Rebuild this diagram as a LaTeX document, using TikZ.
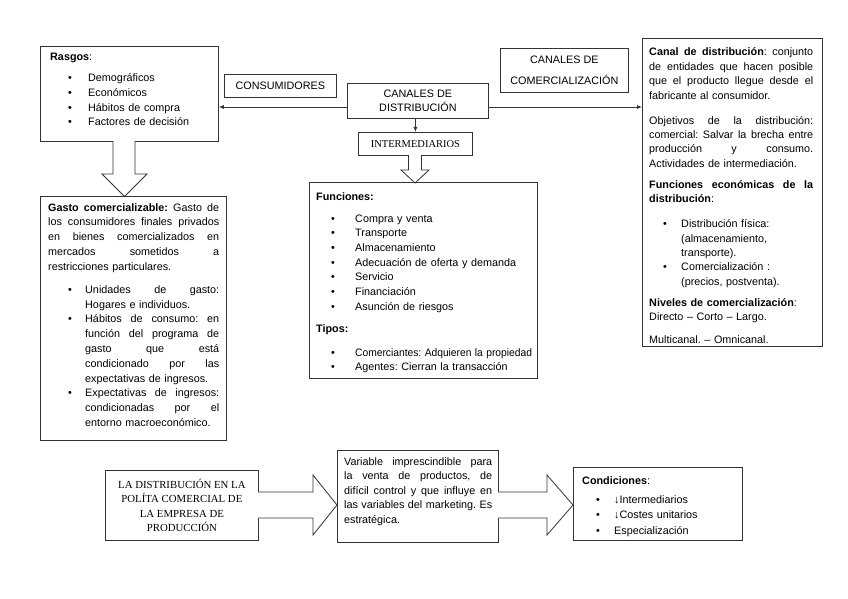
\documentclass[tikz,border=0pt]{standalone}
\usepackage{fontspec}
\setmainfont{Liberation Sans}
\newfontfamily\serifrm{Liberation Serif}
\usetikzlibrary{arrows.meta}
\newlength\bulind
\newlength\bulwd
\newlength\jw
\protected\def\Fixsp{\spaceskip=\fontdimen2\font\relax}
\protected\def\Sstretch{\spaceskip=\fontdimen2\font plus 1fil\relax}
\newcommand{\Bitem}{\hspace*{\bulind}\makebox[\bulwd][l]{\textbullet}}
\newcommand{\Bcont}{\hspace*{\dimexpr\bulind+\bulwd\relax}}
\newcommand{\Jline}[1]{\makebox[\jw][s]{\Sstretch#1}}
\newcommand{\Bjust}[1]{\Bitem\makebox[\dimexpr\jw-\bulind-\bulwd\relax][s]{\Sstretch#1}}
\newcommand{\Cjust}[1]{\Bcont\makebox[\dimexpr\jw-\bulind-\bulwd\relax][s]{\Sstretch#1}}
\begin{document}
\frenchspacing
\begin{tikzpicture}[x=1pt,y=-1pt,
  box/.style={draw=black!80, line width=0.8pt, fill=white, inner sep=0pt, anchor=north west},
  txt/.style={inner sep=0pt, anchor=base west, font=\fontsize{10.8}{14.6}\selectfont\Fixsp},
  lbl/.style={align=center, font=\fontsize{10.8}{14.6}\selectfont},
  blk/.style={draw=black!80, line width=0.8pt, fill=white, line join=miter},
  arr/.style={draw=black!80, line width=0.8pt, -{Latex[length=5pt,width=4pt]}}]
\path[fill=white] (0,0) rectangle (848,599);
\useasboundingbox (0,0) rectangle (848,599);

% top row boxes
\node[box, minimum width=178, minimum height=95] (rasgos) at (40,46) {};
\node[txt, text width=165] (rasgosT) at (50,61) {\setlength\bulind{18pt}\setlength\bulwd{20pt}%
\textbf{Rasgos}:\\[6.4pt]
\Bitem Demográficos\\
\Bitem Económicos\\
\Bitem Hábitos de compra\\
\Bitem Factores de decisión};

\node[box, lbl, minimum width=112, minimum height=23] (cons) at (224,74) {CONSUMIDORES};
\node[box, lbl, minimum width=141, minimum height=35] (cdist) at (347,83) {CANALES DE\\DISTRIBUCIÓN};
\node[box, lbl, minimum width=128, minimum height=44] (ccom) at (500,48) {CANALES DE\\[7pt]COMERCIALIZACIÓN};
\node[box, align=center, font=\serifrm\fontsize{10.5}{13}\selectfont, minimum width=114, minimum height=23] (inter) at (358,132) {INTERMEDIARIOS};

% right box
\node[box, minimum width=180, minimum height=308] (canal) at (642,38) {};
\node[txt, text width=166, font=\fontsize{10.8}{14.4}\selectfont\Fixsp] (canalT) at (649,56) {\setlength\bulind{14pt}\setlength\bulwd{18pt}\setlength\jw{164pt}%
\Jline{\textbf{Canal de distribución}: conjunto}\\
\Jline{de entidades que hacen posible}\\
\Jline{que el producto llegue desde el}\\
fabricante al consumidor.\\[10.6pt]
\Jline{Objetivos de la distribución:}\\
\Jline{comercial: Salvar la brecha entre}\\
\Jline{producción y consumo.}\\
Actividades de intermediación.\\[6.6pt]
\Jline{\textbf{Funciones económicas de la}}\\
\textbf{distribución}:\\[10.6pt]
\Bitem Distribución física:\\
\Bcont (almacenamiento,\\
\Bcont transporte).\\
\Bitem Comercialización :\\
\Bcont (precios, postventa).\\[6.6pt]
\textbf{Niveles de comercialización}:\\
Directo – Corto – Largo.\\[8.6pt]
Multicanal. – Omnicanal.};

% gasto box
\node[box, minimum width=186, minimum height=244] (gasto) at (40,196) {};
\node[txt, text width=172, font=\fontsize{10.8}{14.8}\selectfont\Fixsp] (gastoT) at (48,211) {\setlength\bulind{20pt}\setlength\bulwd{17pt}\setlength\jw{171pt}%
\Jline{\textbf{Gasto comercializable:} Gasto de}\\
\Jline{los consumidores finales privados}\\
\Jline{en bienes comercializados en}\\
\Jline{mercados sometidos a}\\
restricciones particulares.\\[8.2pt]
\Bjust{Unidades de gasto:}\\
\Bcont Hogares e individuos.\\
\Bjust{Hábitos de consumo: en}\\
\Cjust{función del programa de}\\
\Cjust{gasto que está}\\
\Cjust{condicionado por las}\\
\Bcont expectativas de ingresos.\\
\Bjust{Expectativas de ingresos:}\\
\Cjust{condicionadas por el}\\
\Bcont entorno macroeconómico.};

% funciones box
\node[box, minimum width=228, minimum height=196] (func) at (309,182) {};
\node[txt, text width=240, font=\fontsize{10.8}{14.7}\selectfont\Fixsp] (funcT) at (316,200) {\setlength\bulind{15pt}\setlength\bulwd{24pt}%
\textbf{Funciones:}\\[7.3pt]
\Bitem Compra y venta\\
\Bitem Transporte\\
\Bitem Almacenamiento\\
\Bitem Adecuación de oferta y demanda\\
\Bitem Servicio\\
\Bitem Financiación\\
\Bitem Asunción de riesgos\\[7.3pt]
\textbf{Tipos:}\\[9.3pt]
\Bitem \scalebox{0.95}[1]{Comerciantes: Adquieren la propiedad}\\
\Bitem Agentes: Cierran la transacción};

% bottom row
\node[box, align=center, font=\serifrm\fontsize{10.8}{14.5}\selectfont, minimum width=153, minimum height=70] (polit) at (105,470) {LA DISTRIBUCIÓN EN LA\\POLÍTA COMERCIAL DE\\LA EMPRESA DE\\PRODUCCIÓN};
\node[box, minimum width=161, minimum height=92] (var) at (337,450) {};
\node[txt, text width=150] (varT) at (344,465) {\setlength\jw{148pt}%
\Jline{Variable imprescindible para}\\
\Jline{la venta de productos, de}\\
\Jline{difícil control y que influye en}\\
\Jline{las variables del marketing. Es}\\
estratégica.};
\node[box, minimum width=169, minimum height=73] (cond) at (573,467) {};
\node[txt, text width=155, font=\fontsize{10.8}{15.2}\selectfont\Fixsp] (condT) at (582,484) {\setlength\bulind{14pt}\setlength\bulwd{18pt}%
\textbf{Condiciones}:\\[4.5pt]
\Bitem ↓Intermediarios\\
\Bitem ↓Costes unitarios\\
\Bitem Especialización};

% line connectors
\draw[arr] (cdist.west |- 0,107) -- (rasgos.east |- 0,107);
\draw[arr] (cdist.east |- 0,107) -- (canal.west |- 0,107);
\draw[arr] (cdist.south -| inter.north) -- (inter.north);

% block arrows
\draw[blk] (113,141) -- (113,174) -- (102,174) -- (124.5,196.5) -- (147,174) -- (135,174) -- (135,141);
\draw[blk] (408.5,155) -- (408.5,170) -- (401,170) -- (415,183) -- (429,170) -- (421.5,170) -- (421.5,155);
\draw[blk] (258,492) -- (313,492) -- (313,475) -- (337,505) -- (313,535) -- (313,518) -- (258,518);
\draw[blk] (498,492) -- (547,492) -- (547,475) -- (573,505) -- (547,535) -- (547,518) -- (498,518);
\end{tikzpicture}
\end{document}
